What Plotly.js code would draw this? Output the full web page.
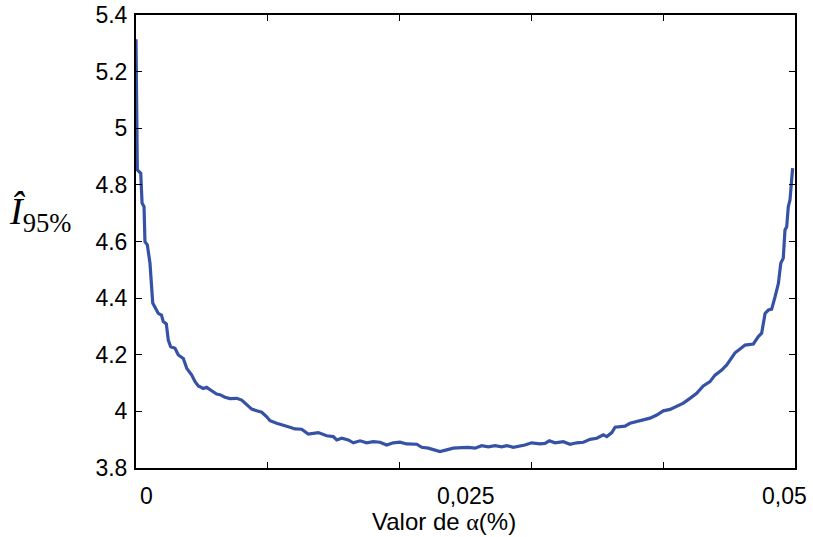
<!DOCTYPE html>
<html>
<head>
<meta charset="utf-8">
<script src="https://cdn.plot.ly/plotly-3.0.1.min.js"></script>
<style>html,body{margin:0;padding:0;background:#fff;}#chart{width:813px;height:537px;}</style>
</head>
<body>
<div id="chart"></div>
<script>
// alpha values (x) and estimated interval width I_95% (y)
const alpha = [0, 0.0001, 0.00036, 0.00046, 0.00061, 0.00068, 0.00086, 0.00106, 0.00127, 0.00154,
  0.00169, 0.00193, 0.00207, 0.0023, 0.00245, 0.00263, 0.00296, 0.00321, 0.00359, 0.00385,
  0.00423, 0.00448, 0.00473, 0.00511, 0.00536, 0.00574, 0.00612, 0.00637, 0.00675, 0.00713,
  0.00764, 0.00802, 0.0084, 0.00878, 0.00916, 0.00954, 0.00992, 0.01017, 0.01067, 0.01093,
  0.01168, 0.01206, 0.01257, 0.01307, 0.01383, 0.01447, 0.01497, 0.01523, 0.01561, 0.01611,
  0.01649, 0.017, 0.0175, 0.018, 0.01851, 0.01902, 0.01952, 0.02003, 0.02054, 0.0213,
  0.02168, 0.02218, 0.02256, 0.02306, 0.02357, 0.02407, 0.02471, 0.02521, 0.02572, 0.02623,
  0.02673, 0.02724, 0.02775, 0.02813, 0.02863, 0.02913, 0.02951, 0.03002, 0.03065, 0.03103,
  0.03136, 0.03179, 0.03242, 0.03293, 0.03344, 0.03395, 0.03445, 0.03496, 0.03546, 0.03572,
  0.0361, 0.03635, 0.0371, 0.03748, 0.03799, 0.03849, 0.039, 0.03951, 0.04001, 0.04052,
  0.04102, 0.04153, 0.04203, 0.04254, 0.04304, 0.04355, 0.04393, 0.04444, 0.04482, 0.0452,
  0.04545, 0.04583, 0.04621, 0.04684, 0.04722, 0.04747, 0.04773, 0.04798, 0.04823, 0.04849,
  0.04874, 0.04892, 0.04911, 0.04924, 0.04937, 0.04949, 0.04962, 0.04982];
const width95 = [5.314, 4.853, 4.841, 4.736, 4.723, 4.599, 4.588, 4.524, 4.383, 4.358,
  4.346, 4.340, 4.317, 4.309, 4.252, 4.228, 4.223, 4.199, 4.187, 4.152,
  4.128, 4.105, 4.090, 4.081, 4.085, 4.073, 4.061, 4.059, 4.050, 4.045,
  4.046, 4.040, 4.023, 4.008, 4.002, 3.997, 3.981, 3.967, 3.958, 3.955,
  3.944, 3.938, 3.937, 3.920, 3.925, 3.914, 3.911, 3.899, 3.905, 3.899,
  3.889, 3.896, 3.889, 3.893, 3.891, 3.881, 3.889, 3.891, 3.885, 3.884,
  3.873, 3.870, 3.864, 3.858, 3.864, 3.870, 3.872, 3.873, 3.870, 3.879,
  3.875, 3.879, 3.875, 3.879, 3.873, 3.878, 3.881, 3.889, 3.885, 3.887,
  3.896, 3.889, 3.893, 3.884, 3.889, 3.891, 3.901, 3.905, 3.917, 3.911,
  3.925, 3.944, 3.948, 3.958, 3.964, 3.970, 3.976, 3.987, 4.002, 4.007,
  4.019, 4.029, 4.046, 4.064, 4.090, 4.105, 4.128, 4.146, 4.164, 4.193,
  4.207, 4.220, 4.234, 4.238, 4.264, 4.276, 4.346, 4.358, 4.361, 4.405,
  4.452, 4.523, 4.541, 4.641, 4.652, 4.723, 4.747, 4.859];

// axis ticks and labels
const xTickMarks = [0.01, 0.02, 0.03, 0.04];
const xLabelPos = [0.0008, 0.025, 0.0492];
const xLabelText = ['0', '0,025', '0,05'];
const yTickVals = [3.8, 4.0, 4.2, 4.4, 4.6, 4.8, 5.0, 5.2, 5.4];
const yTickText = ['3.8', '4', '4.2', '4.4', '4.6', '4.8', '5', '5.2', '5.4'];

const sansFamily = 'Liberation Sans, Arial, sans-serif';
const tickFont = {family: sansFamily, size: 23, color: '#000'};

const trace = {
  x: alpha, y: width95, type: 'scatter', mode: 'lines',
  line: {color: '#3652a5', width: 3.2},
  showlegend: false, hoverinfo: 'skip'
};

const xLabelAnnots = xLabelPos.map((v, i) => ({
  xref: 'x', yref: 'paper', x: v, y: -0.062, xanchor: 'center', yanchor: 'middle',
  text: xLabelText[i], showarrow: false, font: tickFont, borderpad: 0
}));

const layout = {
  width: 813, height: 537,
  margin: {l: 136, r: 18, t: 15, b: 69},
  paper_bgcolor: '#fff', plot_bgcolor: '#fff',
  showlegend: false,
  xaxis: {
    range: [0, 0.05], tickmode: 'array', tickvals: xTickMarks, showticklabels: false,
    ticks: 'inside', ticklen: 6, tickwidth: 1.2, tickcolor: '#000',
    showline: true, linecolor: '#000', linewidth: 2, mirror: 'ticks',
    showgrid: false, zeroline: false
  },
  yaxis: {
    range: [3.8, 5.4], tickmode: 'array', tickvals: yTickVals, ticktext: yTickText,
    ticks: 'inside', ticklen: 6, tickwidth: 1.2, tickcolor: '#000',
    showline: true, linecolor: '#000', linewidth: 2, mirror: 'ticks',
    showgrid: false, zeroline: false, tickfont: tickFont, ticklabelstandoff: 2
  },
  annotations: xLabelAnnots.concat([
    {
      xref: 'paper', yref: 'paper', x: 0.467, y: -0.117, xanchor: 'center', yanchor: 'middle',
      text: 'Valor de <span style="font-family:Liberation Serif">α</span>(%)', showarrow: false,
      font: {family: sansFamily, size: 24, color: '#000'}, borderpad: 0
    },
    {
      xref: 'paper', yref: 'paper', x: -0.146, y: 0.56, xanchor: 'center', yanchor: 'middle',
      text: '<i>Î</i><sub>95%</sub>', showarrow: false,
      font: {family: 'Liberation Serif, Times New Roman, serif', size: 38, color: '#000'}
    }
  ])
};

Plotly.newPlot('chart', [trace], layout, {displayModeBar: false, staticPlot: true});
</script>
</body>
</html>
